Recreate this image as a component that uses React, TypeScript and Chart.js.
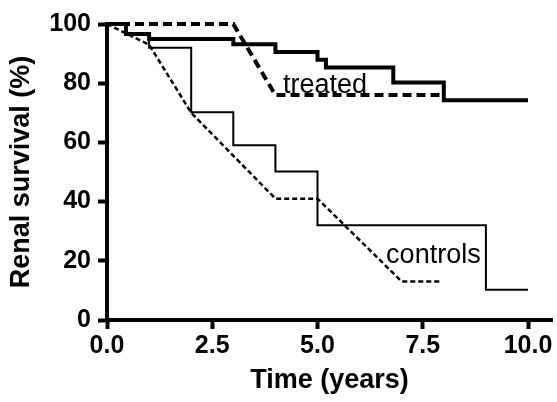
import React, { useEffect, useRef } from "react";
import { Chart, registerables } from "chart.js";

Chart.register(...registerables);

// Kaplan-Meier style curves (time in years, survival %)
const treatedObservedT = [0, 0.45, 1.0, 3.0, 4.0, 5.0, 5.2, 6.8, 8.0, 10.0];
const treatedObservedV = [100, 96.6, 94.9, 93.2, 90.5, 87.9, 85.3, 80.2, 74.2, 74.2];
const treatedPredictedT = [0, 3.0, 4.0, 8.0];
const treatedPredictedV = [100, 100, 76, 76];
const controlsObservedT = [0, 0.45, 1.0, 2.0, 3.0, 4.0, 5.0, 9.0, 10.0];
const controlsObservedV = [100, 96.5, 92, 70.2, 59, 50.2, 32, 10.2, 10.2];
const controlsPredictedT = [0, 1.0, 2.0, 4.0, 5.0, 7.0, 7.9];
const controlsPredictedV = [100, 93, 70, 41, 41, 13, 13];

const xTickValues = [0, 2.5, 5.0, 7.5, 10.0];
const yTickValues = [0, 20, 40, 60, 80, 100];

const curveLabels = ["treated", "controls"];
const curveLabelT = [4.18, 6.63];
const curveLabelV = [76.6, 19.3];

const FONT = '"Liberation Sans", Arial, Helvetica, sans-serif';

const pts = (t: number[], v: number[]) => t.map((x, i) => ({ x, y: v[i] }));

const labelPlugin = {
  id: "curveLabels",
  afterDatasetsDraw(chart: any) {
    const { ctx, scales } = chart;
    ctx.save();
    ctx.fillStyle = "#000";
    ctx.font = `27px ${FONT}`;
    ctx.textAlign = "left";
    ctx.textBaseline = "alphabetic";
    curveLabels.forEach((txt, i) => {
      const x = scales.x.getPixelForValue(curveLabelT[i]);
      const y = scales.y.getPixelForValue(curveLabelV[i]);
      ctx.fillText(txt, x, y);
    });
    ctx.restore();
  },
};

export default function App() {
  const ref = useRef<HTMLCanvasElement | null>(null);

  useEffect(() => {
    if (!ref.current) return;
    const chart = new Chart(ref.current, {
      type: "line",
      data: {
        datasets: [
          {
            label: "treated observed",
            data: pts(treatedObservedT, treatedObservedV),
            borderColor: "#000",
            borderWidth: 4,
            stepped: "before",
            pointRadius: 0,
            fill: false,
            clip: false,
          },
          {
            label: "treated predicted",
            data: pts(treatedPredictedT, treatedPredictedV),
            borderColor: "#000",
            borderWidth: 4,
            borderDash: [9, 5],
            pointRadius: 0,
            fill: false,
            tension: 0,
            clip: false,
          },
          {
            label: "controls observed",
            data: pts(controlsObservedT, controlsObservedV),
            borderColor: "#000",
            borderWidth: 2,
            stepped: "before",
            pointRadius: 0,
            fill: false,
            clip: false,
          },
          {
            label: "controls predicted",
            data: pts(controlsPredictedT, controlsPredictedV),
            borderColor: "#000",
            borderWidth: 2.5,
            borderDash: [5, 3],
            pointRadius: 0,
            fill: false,
            tension: 0,
            clip: false,
          },
        ],
      },
      options: {
        animation: false,
        responsive: false,
        maintainAspectRatio: false,
        layout: { padding: { top: 24, right: 5, left: 0, bottom: 0 } },
        plugins: { legend: { display: false }, tooltip: { enabled: false } },
        scales: {
          x: {
            type: "linear",
            min: 0,
            max: 10.57,
            afterBuildTicks: (s: any) => {
              s.ticks = xTickValues.map((value) => ({ value }));
            },
            afterFit: (s: any) => {
              s.height = 82;
            },
            ticks: {
              color: "#000",
              font: { family: FONT, size: 25, weight: "bold" },
              padding: 2,
              maxRotation: 0,
              callback: (v: any) => Number(v).toFixed(1),
            },
            grid: {
              display: true,
              drawOnChartArea: false,
              drawTicks: true,
              tickLength: 9,
              tickWidth: 4,
              tickColor: "#000",
            },
            border: { display: true, color: "#000", width: 4 },
            title: {
              display: true,
              text: "Time (years)",
              color: "#000",
              font: { family: FONT, size: 27, weight: "bold" },
              padding: { top: 0, bottom: 5 },
            },
          },
          y: {
            type: "linear",
            min: 0,
            max: 100,
            afterBuildTicks: (s: any) => {
              s.ticks = yTickValues.map((value) => ({ value }));
            },
            afterFit: (s: any) => {
              s.width = 107;
            },
            ticks: {
              color: "#000",
              font: { family: FONT, size: 25, weight: "bold" },
              padding: 7,
              callback: (v: any) => String(Math.round(Number(v))),
            },
            grid: {
              display: true,
              drawOnChartArea: false,
              drawTicks: true,
              tickLength: 9,
              tickWidth: 4,
              tickColor: "#000",
            },
            border: { display: true, color: "#000", width: 4 },
            title: {
              display: true,
              text: "Renal survival (%)",
              color: "#000",
              font: { family: FONT, size: 27, weight: "bold" },
              padding: { top: 5, bottom: 0 },
            },
          },
        },
      },
      plugins: [labelPlugin],
    });
    return () => chart.destroy();
  }, []);

  return (
    <div style={{ position: "absolute", left: 0, top: 0, width: 557, height: 402, background: "#fff" }}>
      <canvas ref={ref} width={557} height={402} style={{ display: "block", width: 557, height: 402 }} />
    </div>
  );
}
